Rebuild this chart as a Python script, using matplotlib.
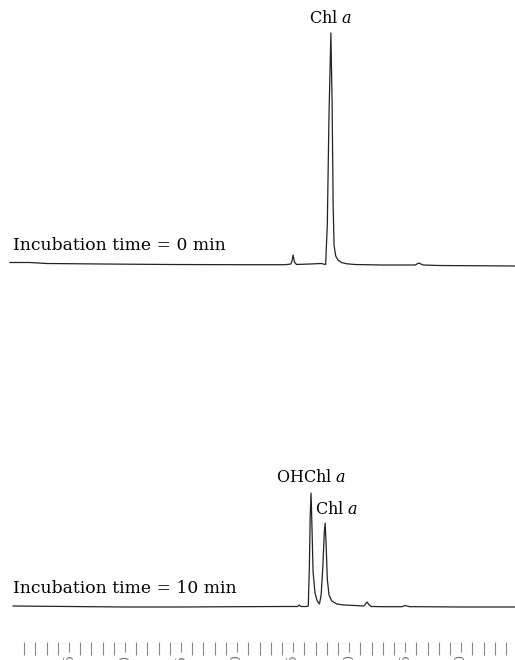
import numpy as np
import matplotlib
matplotlib.use("Agg")
import matplotlib.pyplot as plt

plt.rcParams['font.family'] = ['DejaVu Serif']
plt.rcParams['mathtext.fontset'] = 'dejavuserif'

# --- Data (time in min, detector signal in arb. units) ---
t_0min = [-0.27, 1.5, 3.0, 8.0, 14.0, 20.0, 24.3, 24.8, 24.9, 25.0, 25.12, 25.3,
          26.5, 27.5, 27.9, 28.05, 28.2, 28.37, 28.48, 28.57, 28.65, 28.8, 29.0,
          29.3, 29.8, 30.5, 33.0, 35.9, 36.2, 36.6, 38.0, 44.8]
s_0min = [2.5, 2.5, 1.5, 1.0, 0.5, 0.3, 0.3, 1.0, 4.0, 10.0, 3.0, 0.5,
          1.0, 1.5, 0.5, 40.0, 150.0, 232.0, 160.0, 60.0, 20.0, 9.0, 5.0,
          2.5, 1.2, 0.5, 0.0, 0.0, 2.0, 0.0, -0.5, -1.0]

t_10min = [0.0, 5.0, 10.0, 15.0, 20.0, 24.0, 25.4, 25.54, 25.7, 26.2, 26.35, 26.45,
           26.52, 26.6, 26.68, 26.78, 26.95, 27.15, 27.35, 27.5, 27.65, 27.78, 27.86,
           27.95, 28.05, 28.2, 28.45, 28.9, 29.5, 30.5, 31.3, 31.45, 31.6, 31.75,
           31.95, 33.0, 34.7, 35.0, 35.4, 36.0, 40.0, 44.8]
s_10min = [1.0, 0.5, 0.0, 0.0, 0.3, 0.5, 0.5, 2.0, 0.5, 0.5, 1.0, 40.0,
           90.0, 114.0, 80.0, 35.0, 14.0, 6.0, 3.0, 12.0, 40.0, 75.0, 84.0,
           60.0, 28.0, 12.0, 6.0, 3.0, 2.0, 1.5, 1.0, 3.0, 5.0, 2.5,
           0.5, 0.3, 0.3, 1.5, 0.3, 0.3, 0.0, 0.0]

major_ticks = [5, 10, 15, 20, 25, 30, 35, 40]
minor_ticks = [t for t in range(1, 45) if t % 5 != 0]

xlim = (-1.16, 44.8)
W, H = 515, 660

fig = plt.figure(figsize=(W / 100, H / 100), dpi=100)

# --- Top chromatogram: 0 min ---
ax1 = fig.add_axes([0, 390 / H, 1, 250 / H])
ax1.plot(t_0min, s_0min, color='#222222', lw=0.9)
ax1.set_xlim(*xlim)
ax1.set_ylim(-5, 245)
ax1.axis('off')
ax1.text(28.37, 238, r'Chl $\mathit{a}$', ha='center', va='bottom', fontsize=11.5, clip_on=False)
ax1.text(0.0, 11, 'Incubation time = 0 min', ha='left', va='bottom', fontsize=12.3)

# --- Bottom chromatogram: 10 min ---
ax2 = fig.add_axes([0, 48 / H, 1, 130 / H])
ax2.plot(t_10min, s_10min, color='#222222', lw=0.9)
ax2.set_xlim(*xlim)
ax2.set_ylim(-5, 125)
ax2.axis('off')
ax2.text(26.6, 121, r'OHChl $\mathit{a}$', ha='center', va='bottom', fontsize=11.5, clip_on=False)
ax2.text(26.96, 89, r'Chl $\mathit{a}$', ha='left', va='bottom', fontsize=11.5)
ax2.text(0.0, 10, 'Incubation time = 10 min', ha='left', va='bottom', fontsize=12.3)

# --- Time scale at the bottom (labels cut by the page edge, as in the scan) ---
ax3 = fig.add_axes([0, 18 / H, 1, 0.0005])
ax3.set_xlim(*xlim)
for sp in ax3.spines.values():
    sp.set_visible(False)
ax3.set_yticks([])
ax3.set_xticks(major_ticks)
ax3.set_xticklabels([str(v) for v in major_ticks], rotation=90, fontsize=9, color='#777777')
ax3.set_xticks(minor_ticks, minor=True)
ax3.tick_params(axis='x', which='major', length=7.5, width=0.8, color='#888888', pad=1)
ax3.tick_params(axis='x', which='minor', length=9, width=0.8, color='#888888')

fig.savefig('out.png', dpi=100)
